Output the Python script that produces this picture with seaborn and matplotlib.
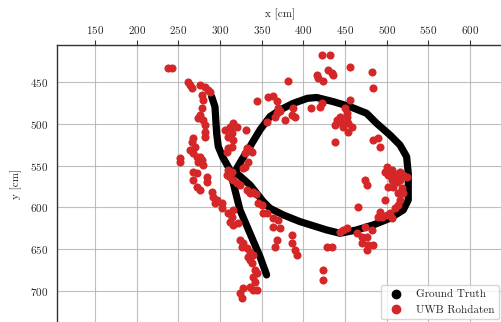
import matplotlib
matplotlib.use("Agg")
import matplotlib.pyplot as plt
from matplotlib.lines import Line2D
import numpy as np
import pandas as pd
import seaborn as sns

# Ground-truth trajectory (cm): a straight walk and a closed loop
gt_line_x = [290, 294, 296, 298, 303, 312, 320, 324, 336, 348, 356]
gt_line_y = [467, 479, 511, 527, 539, 555, 587, 603, 631, 659, 681]

gt_loop_x = [318, 326, 336, 348, 360, 372, 388, 405, 416, 436, 456, 476, 488,
             504, 516, 524, 526, 526, 520, 504, 484, 464, 444, 428, 396, 376,
             360, 352, 336, 318]
gt_loop_y = [557, 543, 527, 507, 491, 483, 475, 469, 468, 473, 479, 487, 499,
             513, 525, 539, 559, 591, 603, 613, 621, 627, 631, 627, 617, 609,
             601, 593, 573, 557]

# Raw UWB position estimates (cm)
uwb_x = [238, 242, 422, 432, 456, 482, 484, 430, 434, 436, 416, 418, 424, 382, 456,
         262, 264, 266, 276, 282, 286, 288, 278, 280, 278, 276, 274, 280, 282, 282,
         282, 268, 266, 270, 264, 268, 272, 276, 278, 274, 252, 252, 280, 268, 272,
         268, 272, 276, 284, 284, 290, 292, 296, 294, 302, 302, 310, 314, 312, 316,
         322, 316, 324, 328, 326, 332, 336, 334, 340, 336, 338, 342, 344, 340, 342,
         336, 340, 344, 328, 324, 326,
         306, 312, 316, 314, 310, 316, 314, 310, 308, 320, 331, 332, 336, 330, 338,
         334, 330, 328, 310, 314, 308, 312, 316, 320, 324, 332, 336, 340, 343, 346,
         350, 352, 356, 364, 370, 364, 372, 368, 366, 386, 386, 390, 392, 428, 434,
         424, 424,
         344, 358, 364, 368, 370, 372, 368, 366, 356, 388, 386, 390, 378, 409, 420,
         422,
         450, 452, 452, 444, 442, 446, 438, 448, 454, 458, 454, 440, 438, 484, 490,
         492,
         500, 498, 502, 506, 508, 512, 516, 520, 524, 506, 512, 516, 502, 508, 518,
         514, 520, 516, 514, 510, 504, 506, 500, 492, 490, 494, 474, 476, 498, 466,
         482, 474, 464, 470, 476, 470, 478, 484, 476, 448, 452, 444]
uwb_y = [433, 433, 417, 417, 432, 438, 457, 435, 439, 441, 441, 445, 448, 448, 471,
         449, 453, 457, 453, 455, 459, 461, 465, 471, 481, 489, 493, 495, 501, 509,
         515, 517, 521, 527, 531, 535, 539, 539, 543, 545, 541, 545, 549, 557, 559,
         567, 575, 579, 563, 569, 581, 587, 591, 595, 595, 601, 607, 611, 617, 603,
         619, 621, 639, 643, 647, 649, 653, 659, 657, 663, 667, 675, 679, 683, 689,
         695, 699, 699, 697, 703, 709,
         507, 503, 499, 511, 515, 519, 527, 529, 533, 504, 507, 529, 531, 535, 533,
         545, 551, 553, 555, 557, 561, 563, 567, 571, 573, 579, 583, 581, 584, 595,
         597, 607, 607, 613, 615, 623, 625, 639, 647, 633, 643, 651, 657, 647, 647,
         675, 687,
         472, 468, 466, 472, 481, 484, 487, 491, 497, 481, 489, 491, 495, 481, 479,
         475,
         481, 487, 491, 491, 497, 499, 501, 503, 499, 503, 509, 495, 521, 519, 517,
         527,
         551, 557, 561, 555, 559, 563, 557, 561, 563, 567, 569, 567, 575, 575, 577,
         583, 583, 591, 597, 601, 607, 613, 609, 605, 611, 611, 567, 573, 591, 599,
         627, 623, 631, 635, 635, 643, 645, 645, 651, 627, 625, 629]

x_ticks = [150, 200, 250, 300, 350, 400, 450, 500, 550, 600]
y_ticks = [450, 500, 550, 600, 650, 700]

gt = pd.DataFrame({
    "x": gt_line_x + gt_loop_x,
    "y": gt_line_y + gt_loop_y,
    "segment": [0] * len(gt_line_x) + [1] * len(gt_loop_x),
})
uwb = pd.DataFrame({"x": uwb_x, "y": uwb_y})

sns.set_style("white")
plt.rcParams.update({
    "font.family": "serif",
    "font.serif": ["cmr10", "DejaVu Serif"],
    "mathtext.fontset": "cm",
    "axes.formatter.use_mathtext": True,
    "font.size": 8,
    "axes.unicode_minus": False,
})

fig = plt.figure(figsize=(5.02, 3.22), dpi=100)
ax = fig.add_axes([57.5 / 502, 0.0, 1 - 57.5 / 502, 277 / 322])

sns.lineplot(data=gt, x="x", y="y", units="segment", estimator=None, sort=False,
             color="black", linewidth=5.2, solid_capstyle="round",
             solid_joinstyle="round", ax=ax, legend=False, zorder=2)
sns.scatterplot(data=uwb, x="x", y="y", color="#d62728", s=34, linewidth=0,
                ax=ax, legend=False, zorder=3)

ax.set_xlim(105, 638.5)
ax.set_ylim(737.5, 405)
ax.set_xticks(x_ticks)
ax.set_yticks(y_ticks)
ax.xaxis.tick_top()
ax.xaxis.set_label_position("top")
ax.set_xlabel("x [cm]", fontsize=8, labelpad=5)
ax.set_ylabel("y [cm]", fontsize=8, labelpad=6)
ax.tick_params(axis="both", labelsize=8, length=3.5, width=0.8, color="#333333",
               direction="out", pad=3)
ax.grid(True, color="#b0b0b0", linewidth=0.8, alpha=0.8, zorder=0)
ax.set_axisbelow(True)

for side in ("right", "bottom"):
    ax.spines[side].set_visible(False)
for side in ("left", "top"):
    ax.spines[side].set_color("#333333")
    ax.spines[side].set_linewidth(1.0)

handles = [
    Line2D([], [], marker="o", linestyle="none", color="black", markersize=6),
    Line2D([], [], marker="o", linestyle="none", color="#d62728", markersize=6),
]
ax.legend(handles, ["Ground Truth", "UWB Rohdaten"], loc="lower right",
          fontsize=8, frameon=True, borderaxespad=0.25, handletextpad=0.8)

fig.savefig("out.png", dpi=100)
